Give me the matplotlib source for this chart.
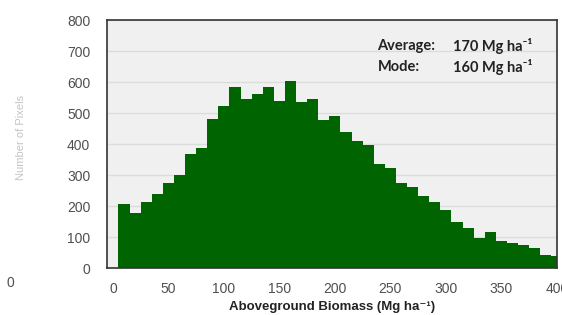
import matplotlib
matplotlib.use('Agg')
import matplotlib.pyplot as plt

# histogram bins (Mg ha-1), 10 wide, centres 10..400
bin_centers = list(range(10, 410, 10))
counts = [205, 178, 212, 239, 273, 299, 368, 386, 480, 521,
          583, 544, 561, 585, 540, 602, 535, 545, 477, 491,
          438, 411, 397, 334, 324, 275, 262, 232, 214, 188,
          149, 128, 96, 115, 86, 82, 74, 66, 42, 40]
yticks = [0, 100, 200, 300, 400, 500, 600, 700, 800]
xticks = [0, 50, 100, 150, 200, 250, 300, 350, 400]

plt.rcParams['font.family'] = ['Liberation Sans', 'DejaVu Sans']

fig = plt.figure(figsize=(5.62, 3.15), dpi=100, facecolor='white')
ax = fig.add_axes([0.1904, 0.1492, 0.8006, 0.7873])
ax.set_facecolor('#f0f0f0')

ax.bar(bin_centers, counts, width=10, color='#006400', zorder=2)

ax.set_xlim(-5.3, 400)
ax.set_ylim(0, 800)
ax.set_yticks(yticks)
ax.set_xticks(xticks)
ax.yaxis.grid(True, color='#dcdcdc', lw=1, zorder=0)
ax.set_axisbelow(True)
ax.tick_params(length=0, labelsize=10, colors='#505050')
ax.tick_params(axis='y', pad=12)
ax.tick_params(axis='x', pad=10)
for s in ax.spines.values():
    s.set_color('#333333')
    s.set_linewidth(1.2)

ax.set_xlabel('Aboveground Biomass (Mg ha⁻¹)', fontsize=9.5, fontweight='bold',
              color='#222222', labelpad=4)

lab = ['Lato', 'DejaVu Sans']
for yy, name, val in [(0.895, 'Average:', '170 Mg ha⁻¹'), (0.81, 'Mode:', '160 Mg ha⁻¹')]:
    ax.text(0.601, yy, name, transform=ax.transAxes, fontsize=10.5,
            fontweight='bold', family=lab, color='#222222', va='center')
    ax.text(0.768, yy, val, transform=ax.transAxes, fontsize=10.5,
            fontweight='bold', family=lab, color='#222222', va='center')

# bits of the neighbouring panel that show at the left edge
fig.text(0.037, 0.563, 'Number of Pixels', rotation=90, fontsize=8,
         color='#c4c4c4', ha='center', va='center')
fig.text(0.018, 1 - 283 / 315, '0', fontsize=10, color='#505050',
         ha='center', va='center')

plt.savefig('out.png', dpi=100, facecolor='white')
